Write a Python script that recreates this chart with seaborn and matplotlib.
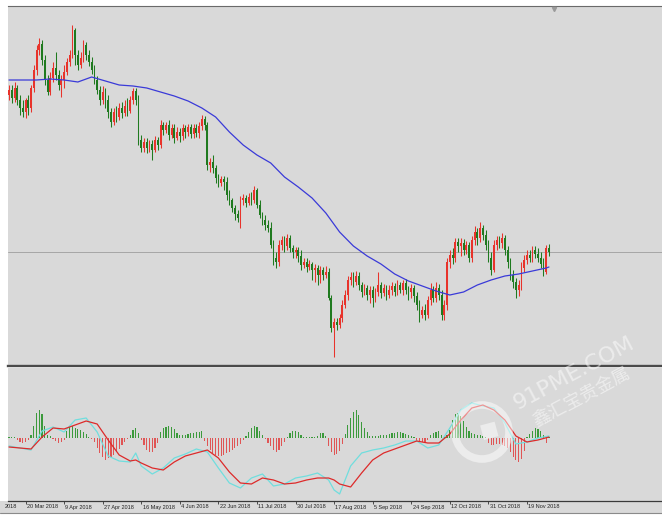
import numpy as np
import matplotlib
matplotlib.use("Agg")
import matplotlib.pyplot as plt
import matplotlib.patches as mpatches
import matplotlib.transforms as mtransforms
from matplotlib.lines import Line2D
import seaborn as sns

# ---------------- data (price in points, one entry per daily bar) ----------------
open_ = [275,280,272,282,270,262,258,270,262,282,300,320,326,310,290,278,292,302,295,285,
         290,298,308,315,340,315,305,312,325,315,308,300,290,280,270,278,270,258,248,258,
         253,262,257,264,259,270,279,270,230,222,228,222,226,220,230,225,245,240,245,235,
         242,232,238,234,242,238,243,236,242,237,244,251,245,205,208,202,192,187,191,188,
         175,170,162,156,152,170,172,167,173,170,180,165,155,150,145,142,125,112,108,125,
         130,124,132,122,118,120,114,105,108,103,106,100,102,95,100,95,98,72,42,48,
         45,52,65,75,90,93,88,94,85,78,82,75,80,72,78,85,77,82,75,80,
         84,78,85,80,87,80,78,82,74,65,55,60,55,70,80,72,82,75,55,65,
         108,115,112,128,124,127,120,125,112,130,138,132,142,135,125,112,100,125,130,127,
         132,120,108,95,88,80,85,102,110,115,112,120,116,112,106,98,122]
close = [280,272,282,270,262,258,270,262,282,300,320,326,310,290,278,292,302,295,285,290,
         298,308,315,340,315,305,312,325,315,308,300,290,280,270,278,270,258,248,258,253,
         262,257,264,259,270,279,270,230,222,228,222,226,220,230,225,245,240,245,235,242,
         232,238,234,242,238,243,236,242,237,244,251,245,205,208,202,192,187,191,188,175,
         170,162,156,152,170,172,167,173,170,180,165,155,150,145,142,125,112,108,125,130,
         124,132,122,118,120,114,105,108,103,106,100,102,95,100,95,98,72,42,48,45,
         52,65,75,90,93,88,94,85,78,82,75,80,72,78,85,77,82,75,80,84,
         78,85,80,87,80,78,82,74,65,55,60,55,70,80,72,82,75,55,65,108,
         115,112,128,124,127,120,125,112,130,138,132,142,135,125,112,100,125,130,127,132,
         120,108,95,88,80,85,102,110,115,112,120,116,112,106,98,122,118]
high = [285,285,288,285,275,270,272,275,285,305,325,332,330,315,295,298,308,318,300,295,
        305,312,320,345,342,320,318,330,328,320,313,305,294,284,284,282,275,262,262,264,
        267,268,270,272,274,282,282,275,235,232,232,230,230,234,233,250,248,248,250,246,
        246,243,242,246,245,246,246,246,246,248,255,254,248,212,215,205,196,194,194,193,
        180,172,165,160,174,176,175,177,178,184,182,170,158,155,150,148,130,118,130,134,
        134,136,135,125,123,123,120,112,112,110,108,106,105,104,103,104,102,75,52,52,
        56,70,80,94,98,98,99,98,88,86,85,84,84,82,98,88,86,85,85,88,
        87,90,88,90,91,84,86,85,78,70,64,66,74,87,84,88,86,80,70,112,
        120,122,132,132,132,131,129,128,134,144,142,148,145,140,130,118,130,134,134,137,
        135,124,112,100,92,90,108,115,120,120,124,124,122,118,112,125,126]
low = [270,267,268,265,255,253,252,255,258,278,295,315,305,285,275,275,288,290,280,273,
       282,295,304,312,305,300,302,308,310,304,296,286,276,265,266,262,252,243,245,248,
       250,252,254,254,257,266,265,225,218,218,217,218,210,218,220,222,235,237,230,232,
       227,230,228,230,232,234,232,232,233,232,240,240,200,198,197,187,183,184,180,170,
       165,158,150,148,142,165,163,165,165,167,162,152,145,140,138,122,105,102,104,120,
       118,120,118,112,112,108,100,102,98,100,90,88,85,87,90,92,70,38,13,40,
       42,48,62,70,85,83,85,80,73,75,70,67,63,68,74,72,74,70,72,75,
       74,75,77,75,76,70,72,68,60,48,52,50,52,65,68,68,70,50,50,60,
       102,106,108,118,114,115,116,108,108,125,125,128,130,120,108,95,98,120,122,122,
       115,102,90,82,72,74,80,98,106,108,108,112,108,102,94,96,114]

# 100-day moving average, read every 5 bars
ma_idx = [0,5,10,15,20,25,30,35,40,45,50,55,60,65,70,75,80,85,90,95,
          100,105,110,115,120,125,130,135,140,145,150,155,160,165,170,175,180,185,190,195,196]
ma_val = [290,290,290,291,290,288,293,289,285,284,282,278,274,269,262,253,238,225,215,207,
          193,183,172,157,138,124,114,106,96,89,84,79,75,78,85,90,94,96,99,102,103]

# MACD main (cyan) and signal (red) lines, sampled bars
macd_idx = [0,4,8,12,16,20,24,28,32,36,40,44,46,48,52,56,60,64,68,72,
            76,80,84,88,92,96,100,104,108,112,116,118,120,124,128,132,136,140,144,148,
            152,156,160,164,168,172,176,180,184,188,192,196]
macd_line = [-8,-10,-12,7,11,6,18,20,6,-18,-23,-24,-15,-28,-36,-30,-20,-16,-11,-14,
             -30,-45,-50,-40,-36,-48,-46,-40,-38,-35,-42,-52,-56,-28,-15,-12,-10,-7,-3,-3,
             -10,-7,10,28,35,32,30,15,-6,-4,0,2]
signal_line = [-9,-10,-11,1,10,9,13,17,14,-2,-17,-23,-22,-25,-30,-32,-24,-18,-15,-12,
               -20,-34,-45,-46,-40,-42,-46,-45,-42,-40,-40,-42,-46,-49,-35,-22,-15,-11,-7,-3,
               -5,-5,4,18,30,33,28,18,2,-4,-2,1]
# histogram, one per bar
osma = [1,1,1,-2,-4,-5,-4,-2,3,12,25,28,24,12,3,2,-1,-3,-5,-4,
        -2,7,11,12,10,9,8,6,4,1,-1,-4,-10,-15,-19,-22,-20,-19,-17,-14,
        -11,-7,-4,-1,3,8,10,5,-2,-7,-12,-14,-14,-10,-5,6,10,11,12,11,
        9,5,3,3,3,4,5,5,6,6,7,-3,-8,-12,-15,-17,-18,-18,-17,-15,
        -14,-12,-10,-8,-6,-2,2,6,10,12,11,7,3,-1,-5,-8,-12,-14,-12,-8,
        -4,1,5,7,7,6,3,1,1,1,1,1,2,5,5,2,-8,-14,-17,-16,
        -13,-6,4,13,20,26,28,23,16,10,6,2,2,2,2,3,3,3,4,5,
        5,6,6,5,4,3,2,1,-3,-4,-4,-4,-2,3,5,6,7,3,1,3,
        8,18,24,25,22,17,11,7,5,4,3,3,2,1,-5,-7,-7,-6,-6,-7,
        -8,-10,-14,-19,-22,-24,-21,-13,1,4,7,10,9,7,3,-5,1]

# date labels (the first one is only partly visible at the left edge)
tick_pos = [-2,6,20,34,48,62,76,90,104,118,132,146,160,174,188]
tick_labels = ["2018","20 Mar 2018","9 Apr 2018","27 Apr 2018","16 May 2018",
               "4 Jun 2018","22 Jun 2018","11 Jul 2018","30 Jul 2018","17 Aug 2018",
               "5 Sep 2018","24 Sep 2018","12 Oct 2018","31 Oct 2018","19 Nov 2018"]

# ---------------- styling ----------------
sns.set_theme(style="white")
plt.rcParams['font.family'] = ['Liberation Sans', 'DejaVu Sans']

BG = '#d9d9d9'
UP = '#e8332b'
DOWN = '#1f7a1f'
H_UP = '#3c9a3c'
H_DN = '#e05555'

W, H = 662, 517
fig = plt.figure(figsize=(W / 100, H / 100), dpi=100, facecolor='white')


def frac(x0, y0, x1, y1):
    return [x0 / W, 1 - y1 / H, (x1 - x0) / W, (y1 - y0) / H]


# label strip behind the bottom axis
fig.add_artist(mpatches.Rectangle((0, 4 / H), 1, 12 / H, transform=fig.transFigure,
                                  facecolor=BG, edgecolor='none', zorder=-5))
fig.add_artist(Line2D([0, 1], [4 / H, 4 / H], transform=fig.transFigure,
                      color='#8a8a8a', lw=0.8, zorder=-4))

ax = fig.add_axes(frac(8, 6, 662, 366))
ax2 = fig.add_axes(frac(8, 368, 662, 501), sharex=ax)
for a in (ax, ax2):
    a.set_facecolor(BG)
    a.set_yticks([])
    for s in ('left', 'right'):
        a.spines[s].set_visible(False)

o = np.array(open_, float)
c = np.array(close, float)
hi = np.array(high, float)
lo = np.array(low, float)
n = len(c)
idx = np.arange(n)
cols = np.where(c >= o, UP, DOWN)

ax.axhline(c[-1], color='#a6a6a6', lw=0.7, zorder=0.5)
ax.vlines(idx, lo, hi, colors=cols, lw=0.75, zorder=2)
ax.bar(idx, np.maximum(np.abs(c - o), 0.6), bottom=np.minimum(o, c), width=0.62,
       color=cols, linewidth=0, zorder=3)
sns.lineplot(x=ma_idx, y=ma_val, ax=ax, color='#3a3ad8', lw=0.9, zorder=4)

xmin = -0.36
ax.set_xlim(xmin, xmin + 654 / 2.755)
ax.set_ylim(4, 364)
ax.spines['top'].set_color('#6a6a6a')
ax.spines['top'].set_linewidth(0.8)
ax.spines['bottom'].set_color('#4a4a4a')
ax.spines['bottom'].set_linewidth(1.7)
ax.tick_params(bottom=False, labelbottom=False, left=False)
ax.set_xlabel('')
ax.set_ylabel('')

# shift marker
blend = mtransforms.blended_transform_factory(ax.transData, ax.transAxes)
ax.plot([n + 0.8], [0.993], transform=blend, marker='v', ms=3, color='#9a9a9a',
        clip_on=False, zorder=6)

# lower panel
osa = np.array(osma, float)
ax2.bar(idx, osa, width=0.42, color=np.where(osa >= 0, H_UP, H_DN), linewidth=0, zorder=2)
sns.lineplot(x=macd_idx, y=macd_line, ax=ax2, color='#70dede', lw=0.9, zorder=3)
sns.lineplot(x=macd_idx, y=signal_line, ax=ax2, color='#dd2a2a', lw=0.9, zorder=4)
ax2.set_ylim(-63, 70)
ax2.spines['top'].set_visible(False)
ax2.spines['bottom'].set_color('#3a3a3a')
ax2.spines['bottom'].set_linewidth(0.9)
ax2.set_xlabel('')
ax2.set_ylabel('')
ax2.set_xticks([p for p in tick_pos if p >= xmin])
ax2.set_xticklabels([])
ax2.tick_params(axis='x', direction='out', length=2, width=0.6, color='#333333',
                bottom=True, pad=0)
blend2 = mtransforms.blended_transform_factory(ax2.transData, ax2.transAxes)
for p, lab in zip(tick_pos, tick_labels):
    ax2.text(p + 0.5, -3.5 / 133, lab, transform=blend2, ha='left', va='top',
             fontsize=4.0, color='#222222', clip_on=False)

# watermark
fig.text(574 / W, 1 - 373 / H, "91PME.COM", rotation=28, ha='center', va='center',
         fontsize=16, color='white', alpha=0.5, family=['DejaVu Sans'], zorder=10)
fig.text(582 / W, 1 - 398 / H, "鑫汇宝贵金属", rotation=28, ha='center', va='center',
         fontsize=13, color='white', alpha=0.5, family=['Noto Sans CJK SC', 'DejaVu Sans'],
         zorder=10)
fig.add_artist(mpatches.Circle((482, H - 432), 27, transform=None, fill=False,
                               edgecolor='white', lw=5.5, alpha=0.5, zorder=10))
fig.add_artist(mpatches.Rectangle((484, H - 440), 15, 15, angle=15, transform=None,
                                  facecolor='white', edgecolor='none', alpha=0.5, zorder=10))

fig.savefig('out.png', dpi=100, facecolor='white')
